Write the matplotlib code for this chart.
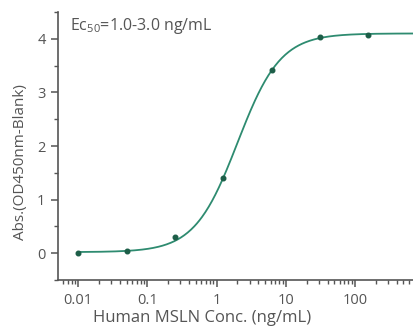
import numpy as np
import matplotlib
matplotlib.use('Agg')
import matplotlib.pyplot as plt
from matplotlib.ticker import LogLocator, MultipleLocator, FixedLocator

# Daten
conc = [0.01, 0.05, 0.25, 1.25, 6.25, 31.25, 156.25]
absorb = [0.01, 0.05, 0.30, 1.41, 3.41, 4.04, 4.07]

# 4PL-Fit Parameter (geschaetzt)
bottom, top, ec50, hill = 0.02, 4.10, 2.0, 1.40

plt.rcParams['font.family'] = ['Open Sans', 'DejaVu Sans']
plt.rcParams['mathtext.fontset'] = 'custom'
plt.rcParams['mathtext.rm'] = 'Open Sans'
plt.rcParams['mathtext.it'] = 'Open Sans'

text_col = '#555555'
line_col = '#2e8b70'
dot_col = '#1d5e48'

fig = plt.figure(figsize=(4.14, 3.29), dpi=100)
ax = fig.add_axes([58 / 414, 1 - 280 / 329, 1 - 58 / 414, 268 / 329])

xs = np.logspace(-2, np.log10(710), 400)
ys = bottom + (top - bottom) / (1 + (ec50 / xs) ** hill)
ax.plot(xs, ys, color=line_col, lw=1.3)
ax.plot(conc, absorb, 'o', color=dot_col, ms=3.3)

ax.set_xscale('log')
ax.set_xlim(0.0051, 710)
ax.set_ylim(-0.5, 4.5)
ax.set_xticks([0.01, 0.1, 1, 10, 100])
ax.set_xticklabels(['0.01', '0.1', '1', '10', '100'])
ax.xaxis.set_minor_locator(LogLocator(base=10, subs=np.arange(2, 10)))
ax.yaxis.set_major_locator(FixedLocator([0, 1, 2, 3, 4]))
ax.yaxis.set_minor_locator(MultipleLocator(0.5))

for s in ['top', 'right']:
    ax.spines[s].set_visible(False)
for s in ['left', 'bottom']:
    ax.spines[s].set_color(text_col)
    ax.spines[s].set_linewidth(1.2)

ax.tick_params(which='major', direction='out', length=5, width=1.1,
               colors=text_col, labelsize=10.5, labelcolor=text_col, pad=4)
ax.tick_params(which='minor', direction='out', length=3, width=1.0, colors=text_col)

ax.set_xlabel('Human MSLN Conc. (ng/mL)', fontsize=12, color=text_col)
ax.set_ylabel('Abs.(OD450nm-Blank)', fontsize=11, color=text_col)
ax.xaxis.set_label_coords(0.405, -0.112)
ax.yaxis.set_label_coords(-0.085, 0.44)

ax.text(0.035, 0.985, r'Ec$_{50}$=1.0-3.0 ng/mL', transform=ax.transAxes,
        fontsize=11.5, color=text_col, va='top', ha='left')

fig.savefig('out.png', dpi=100)
